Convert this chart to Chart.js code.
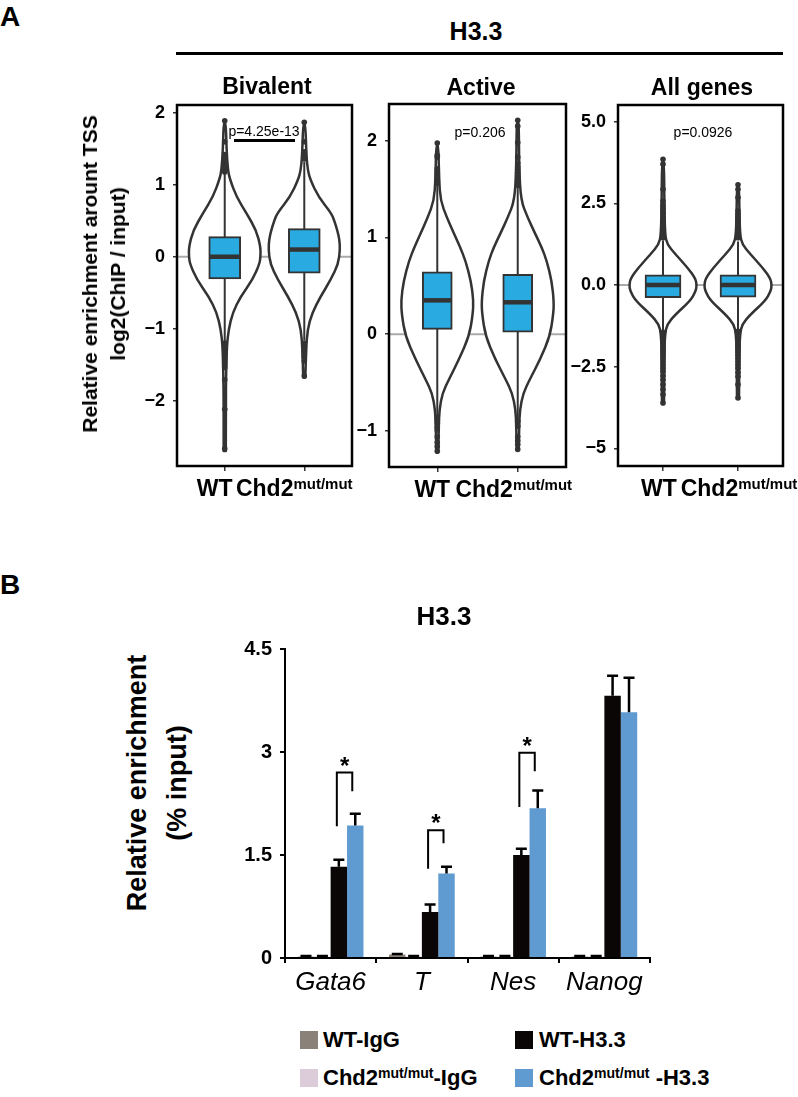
<!DOCTYPE html>
<html>
<head>
<meta charset="utf-8">
<script src="https://cdn.jsdelivr.net/npm/chart.js@4.4.0/dist/chart.umd.min.js"></script>
<style>
body { margin: 0; background: #fff; }
#page { position: relative; width: 798px; height: 1097px; overflow: hidden; font-family: 'Liberation Sans', Arial, sans-serif; color: #000; }
.t { position: absolute; white-space: nowrap; font-weight: bold; transform: translate(-50%, -50%); line-height: 1; }
.rot { transform: translate(-50%, -50%) rotate(-90deg); text-align: center; }
.n { font-weight: normal; }
.hl { position: absolute; background: #000; }
.sw { position: absolute; width: 18px; height: 18px; }
.lg { position: absolute; white-space: nowrap; font-weight: bold; font-size: 22px; line-height: 1; transform: translateY(-50%); }
sup { font-size: 0.64em; vertical-align: 0.5em; line-height: 0; }
canvas { position: absolute; }
</style>
</head>
<body>
<div id="page">
  <canvas id="cBiv" width="247" height="431" style="left:117px;top:80px;width:247px;height:431px"></canvas>
  <canvas id="cAct" width="249" height="433" style="left:329px;top:79px;width:249px;height:433px"></canvas>
  <canvas id="cAll" width="240" height="431" style="left:558px;top:80px;width:240px;height:431px"></canvas>
  <canvas id="cBar" width="470" height="384" style="left:200px;top:624px;width:470px;height:384px"></canvas>

  <div class="t" style="left:10px;top:17px;font-size:28px">A</div>
  <div class="t" style="left:476px;top:31px;font-size:25px">H3.3</div>
  <div class="hl" style="left:176px;top:52px;width:607px;height:2.5px"></div>
  <div class="t" style="left:267px;top:86px;font-size:23px">Bivalent</div>
  <div class="t" style="left:481px;top:87px;font-size:23px">Active</div>
  <div class="t" style="left:702px;top:87px;font-size:23px">All genes</div>
  <div class="t rot" style="left:104px;top:274px;font-size:21px;line-height:28px">Relative enrichment arount TSS<br>log2(ChIP / input)</div>
  <div class="t n" style="left:264px;top:131px;font-size:14px">p=4.25e-13</div>
  <div class="hl" style="left:234px;top:139px;width:61px;height:2.5px"></div>
  <div class="t n" style="left:480px;top:132px;font-size:14px">p=0.206</div>
  <div class="t n" style="left:703px;top:132px;font-size:14px">p=0.0926</div>

  <div class="t" style="left:10px;top:585px;font-size:28px">B</div>
  <div class="t" style="left:444px;top:616px;font-size:26px">H3.3</div>
  <div class="t rot" style="left:157px;top:783px;font-size:27px;line-height:40px">Relative enrichment<br>(% input)</div>

  <div class="sw" style="left:300px;top:1031px;background:#8a8179"></div>
  <div class="lg" style="left:323px;top:1040px">WT-IgG</div>
  <div class="sw" style="left:515px;top:1031px;background:#0a0606"></div>
  <div class="lg" style="left:539px;top:1040px">WT-H3.3</div>
  <div class="sw" style="left:300px;top:1069px;background:#dccbd9"></div>
  <div class="lg" style="left:323px;top:1078px">Chd2<sup>mut/mut</sup>-IgG</div>
  <div class="sw" style="left:515px;top:1069px;background:#5f9bd1"></div>
  <div class="lg" style="left:539px;top:1078px">Chd2<sup>mut/mut</sup> -H3.3</div>
</div>
<script>
var FONT = "'Liberation Sans', Arial, sans-serif";

// groups on the violin panels
var groupX = [1, 2];
var groupLabels = ['WT', 'Chd2'];
var groupSup = ['', 'mut/mut'];

// Bivalent
var bivTicks = [-2, -1, 0, 1, 2];
var bivQ1 = [-0.31, -0.23];
var bivMed = [0.0, 0.10];
var bivQ3 = [0.28, 0.39];
var bivLo = [-1.19, -1.16];
var bivHi = [1.17, 1.32];
var bivOutWT = [1.89, 1.60, 1.42, 1.38, 1.33, 1.28, 1.25, 1.22, 1.18, -1.20, -1.24, -1.28, -1.31, -1.35, -1.39, -1.42, -1.46, -1.50, -1.54, -1.71, -2.12, -2.67];
var bivOutMut = [1.87, 1.60, 1.46, 1.40, 1.36, -1.20, -1.24, -1.28, -1.32, -1.36, -1.40, -1.45, -1.66];
var bivDensYWT = [-2.7, -2.0, -1.6, -1.24, -1.01, -0.78, -0.55, -0.32, -0.1, 0, 0.14, 0.37, 0.61, 0.83, 1.07, 1.2, 1.5, 1.88];
var bivDensWT = [0.03, 0.03, 0.04, 0.06, 0.11, 0.22, 0.45, 0.78, 0.97, 1.0, 1.0, 0.88, 0.6, 0.33, 0.15, 0.09, 0.05, 0.03];
var bivDensYMut = [-1.68, -1.3, -1.01, -0.78, -0.55, -0.32, -0.1, 0.1, 0.25, 0.37, 0.5, 0.61, 0.83, 1.07, 1.2, 1.4, 1.87];
var bivDensMut = [0.03, 0.05, 0.09, 0.22, 0.46, 0.74, 0.95, 1.0, 0.98, 0.92, 0.84, 0.75, 0.4, 0.17, 0.1, 0.06, 0.03];

// Active
var actTicks = [-1, 0, 1, 2];
var actQ1 = [0.05, 0.02];
var actMed = [0.35, 0.33];
var actQ3 = [0.645, 0.62];
var actLo = [-0.84, -0.88];
var actHi = [1.54, 1.52];
var actOutWT = [1.975, 1.85, 1.83, 1.71, 1.68, 1.65, 1.62, 1.59, 1.56, -0.86, -0.89, -0.92, -0.96, -0.99, -1.06, -1.12, -1.16, -1.21];
var actOutMut = [2.21, 2.15, 1.98, 1.83, 1.77, 1.73, 1.70, 1.67, 1.64, 1.60, 1.57, 1.54, -0.90, -0.95, -1.06, -1.10, -1.14, -1.19];
var actDensYWT = [-1.21, -0.95, -0.78, -0.61, -0.47, -0.26, -0.02, 0.2, 0.35, 0.55, 0.76, 0.9, 1.04, 1.21, 1.38, 1.6, 1.97];
var actDensWT = [0.03, 0.04, 0.06, 0.14, 0.32, 0.6, 0.88, 0.98, 1.0, 0.93, 0.78, 0.63, 0.46, 0.26, 0.09, 0.05, 0.03];
var actDensYMut = [-1.18, -0.95, -0.78, -0.61, -0.47, -0.26, -0.02, 0.2, 0.33, 0.55, 0.76, 0.9, 1.04, 1.21, 1.38, 1.7, 2.21];
var actDensMut = [0.03, 0.04, 0.06, 0.15, 0.33, 0.62, 0.89, 0.98, 1.0, 0.94, 0.8, 0.66, 0.48, 0.27, 0.09, 0.04, 0.03];

// All genes
var allTicks = [-5, -2.5, 0, 2.5, 5];
var allQ1 = [-0.39, -0.37];
var allMed = [0.0, 0.0];
var allQ3 = [0.31, 0.31];
var allLo = [-1.44, -1.39];
var allHi = [1.36, 1.33];
var allOutWT = [1.45, 1.50, 1.56, 1.62, 1.68, 1.75, 1.82, 1.90, 1.97, 2.05, 2.17, 2.25, 2.35, 2.45, 2.57, 2.93, 3.70, 3.85,
  -1.45, -1.52, -1.60, -1.68, -1.76, -1.84, -1.92, -2.00, -2.08, -2.16, -2.25, -2.35, -2.45, -2.55, -2.65, -2.78, -2.90, -3.05, -3.20, -3.35, -3.61];
var allOutMut = [1.45, 1.52, 1.60, 1.68, 1.76, 1.84, 1.92, 2.00, 2.08, 2.17, 2.27, 2.68, 2.93, 3.07,
  -1.42, -1.50, -1.58, -1.66, -1.74, -1.82, -1.90, -1.98, -2.06, -2.15, -2.25, -2.35, -2.45, -2.55, -2.68, -2.80, -3.05, -3.46];
var allDensYWT = [-3.61, -2.0, -1.51, -1.2, -0.9, -0.49, -0.2, 0, 0.2, 0.53, 0.94, 1.25, 1.55, 2.5, 3.85];
var allDensWT = [0.03, 0.04, 0.06, 0.12, 0.37, 0.8, 0.97, 1.0, 0.96, 0.73, 0.37, 0.12, 0.06, 0.04, 0.03];
var allDensYMut = [-3.46, -2.0, -1.51, -1.2, -0.9, -0.49, -0.2, 0, 0.2, 0.53, 0.94, 1.25, 1.55, 2.3, 3.07];
var allDensMut = [0.03, 0.04, 0.06, 0.12, 0.37, 0.8, 0.97, 1.0, 0.96, 0.73, 0.37, 0.12, 0.06, 0.04, 0.03];

// Panel B
var genes = ['Gata6', 'T', 'Nes', 'Nanog'];
var barTicks = [0, 1.5, 3, 4.5];
var wtIgG = [0.02, 0.05, 0.02, 0.02];
var mutIgG = [0.02, 0.02, 0.02, 0.02];
var wtIgGErr = [0.01, 0.01, 0.01, 0.01];
var mutIgGErr = [0.01, 0.01, 0.01, 0.01];
var wtH33 = [1.33, 0.67, 1.50, 3.82];
var mutH33 = [1.93, 1.23, 2.18, 3.58];
var wtH33Err = [0.10, 0.11, 0.09, 0.29];
var mutH33Err = [0.17, 0.10, 0.26, 0.50];
var sigLeft = [1.92, 1.30, 2.20, null];
var sigTop = [2.70, 1.86, 2.99, null];
var sigRight = [2.43, 1.67, 2.72, null];

function minusFmt(v) {
    return (v < 0 ? '\u2212' : '') + Math.abs(v);
}

var violinPlugin = {
    id: 'violin',
    beforeDatasetsDraw: function (chart, args, opts) {
        var ctx = chart.ctx, xs = chart.scales.x, ys = chart.scales.y, a = chart.chartArea;
        ctx.save();
        var y0 = ys.getPixelForValue(0);
        ctx.strokeStyle = '#aaaaaa';
        ctx.lineWidth = 2;
        ctx.beginPath();
        ctx.moveTo(a.left, y0);
        ctx.lineTo(a.right, y0);
        ctx.stroke();

        opts.sets.forEach(function (s) {
            var cx = xs.getPixelForValue(s.x);
            var right = [], left = [];
            for (var i = 0; i < s.y.length; i++) {
                var py = ys.getPixelForValue(s.y[i]);
                var w = xs.getPixelForValue(s.x + s.d[i] * opts.width) - cx;
                right.push([cx + w, py]);
                left.unshift([cx - w, py]);
            }
            var pts = right.concat(left);
            ctx.beginPath();
            ctx.moveTo(pts[0][0], pts[0][1]);
            for (var j = 1; j < pts.length - 1; j++) {
                var mx = (pts[j][0] + pts[j + 1][0]) / 2, my = (pts[j][1] + pts[j + 1][1]) / 2;
                ctx.quadraticCurveTo(pts[j][0], pts[j][1], mx, my);
            }
            ctx.lineTo(pts[pts.length - 1][0], pts[pts.length - 1][1]);
            ctx.closePath();
            ctx.fillStyle = '#fff';
            ctx.fill();
            ctx.strokeStyle = '#333';
            ctx.lineWidth = 2.5;
            ctx.lineJoin = 'round';
            ctx.stroke();
            // whisker
            ctx.lineWidth = 2;
            ctx.beginPath();
            ctx.moveTo(cx, ys.getPixelForValue(s.lo));
            ctx.lineTo(cx, ys.getPixelForValue(s.hi));
            ctx.stroke();
        });
        ctx.restore();
    },
    afterDatasetsDraw: function (chart, args, opts) {
        var ctx = chart.ctx, xs = chart.scales.x, ys = chart.scales.y, a = chart.chartArea;
        ctx.save();
        // medians
        ctx.strokeStyle = '#333';
        ctx.lineWidth = 4.5;
        chart.getDatasetMeta(0).data.forEach(function (el, i) {
            var py = ys.getPixelForValue(opts.medians[i]);
            ctx.beginPath();
            ctx.moveTo(el.x - el.width / 2 + 1, py);
            ctx.lineTo(el.x + el.width / 2 - 1, py);
            ctx.stroke();
        });
        // frame
        ctx.strokeStyle = '#000';
        ctx.lineWidth = 2.5;
        ctx.strokeRect(a.left, a.top, a.right - a.left, a.bottom - a.top);
        // x labels with superscript
        ctx.fillStyle = '#000';
        ctx.textAlign = 'left';
        ctx.textBaseline = 'alphabetic';
        groupX.forEach(function (v, i) {
            var cx = xs.getPixelForValue(v) + opts.labelShift[i];
            ctx.font = 'bold 23px ' + FONT;
            var w1 = ctx.measureText(groupLabels[i]).width;
            ctx.font = 'bold 15px ' + FONT;
            var w2 = groupSup[i] ? ctx.measureText(groupSup[i]).width : 0;
            var x0 = cx - (w1 + w2) / 2, base = a.bottom + 30;
            ctx.font = 'bold 23px ' + FONT;
            ctx.fillText(groupLabels[i], x0, base);
            if (w2) {
                ctx.font = 'bold 15px ' + FONT;
                ctx.fillText(groupSup[i], x0 + w1, base - 7);
            }
        });
        ctx.restore();
    }
};

function toPoints(x, arr) {
    return arr.map(function (v) { return {x: x, y: v}; });
}

function makeViolin(id, p) {
    return new Chart(document.getElementById(id), {
        type: 'bar',
        data: {
            datasets: [{
                type: 'bar',
                data: groupX.map(function (x, i) { return {x: x, y: [p.q1[i], p.q3[i]]}; }),
                backgroundColor: '#29abe2',
                borderColor: '#333',
                borderWidth: 2,
                borderSkipped: false,
                barThickness: p.boxW,
                order: 0
            }, {
                type: 'scatter',
                data: toPoints(1, p.outWT).concat(toPoints(2, p.outMut)),
                pointRadius: 2.8,
                pointBackgroundColor: '#333',
                pointBorderWidth: 0,
                order: 1
            }]
        },
        options: {
            responsive: false,
            animation: false,
            events: [],
            layout: {padding: {top: 25, right: p.padRight, left: 0, bottom: 0}},
            plugins: {
                legend: {display: false},
                tooltip: {enabled: false},
                violin: {
                    width: 0.45,
                    medians: p.med,
                    labelShift: p.labelShift,
                    sets: [
                        {x: 1, y: p.densYWT, d: p.densWT, lo: p.lo[0], hi: p.hi[0]},
                        {x: 2, y: p.densYMut, d: p.densMut, lo: p.lo[1], hi: p.hi[1]}
                    ]
                }
            },
            scales: {
                x: {
                    type: 'linear',
                    min: 0.4,
                    max: 2.6,
                    offset: false,
                    afterBuildTicks: function (s) { s.ticks = groupX.map(function (v) { return {value: v}; }); },
                    ticks: {callback: function () { return ''; }, padding: 0},
                    grid: {drawOnChartArea: false, offset: false, tickLength: 5, color: '#333', lineWidth: 1.5},
                    border: {display: false},
                    afterFit: function (s) { s.height = 45; }
                },
                y: {
                    type: 'linear',
                    min: p.min,
                    max: p.max,
                    afterBuildTicks: function (s) { s.ticks = p.ticks.map(function (v) { return {value: v}; }); },
                    ticks: {
                        color: '#000',
                        padding: 8,
                        font: {family: FONT, size: 18, weight: 'bold'},
                        callback: p.fmt
                    },
                    grid: {drawOnChartArea: false, tickLength: 4, color: '#333', lineWidth: 1.5},
                    border: {display: false},
                    afterFit: function (s) { s.width = 60; }
                }
            }
        },
        plugins: [violinPlugin]
    });
}

makeViolin('cBiv', {
    min: -2.91, max: 2.11, ticks: bivTicks, fmt: minusFmt, boxW: 32, padRight: 12, labelShift: [-10, -10],
    q1: bivQ1, med: bivMed, q3: bivQ3, lo: bivLo, hi: bivHi,
    outWT: bivOutWT, outMut: bivOutMut,
    densYWT: bivDensYWT, densWT: bivDensWT, densYMut: bivDensYMut, densMut: bivDensMut
});

makeViolin('cAct', {
    min: -1.372, max: 2.379, ticks: actTicks, fmt: minusFmt, boxW: 30, padRight: 12, labelShift: [-5, -4],
    q1: actQ1, med: actMed, q3: actQ3, lo: actLo, hi: actHi,
    outWT: actOutWT, outMut: actOutMut,
    densYWT: actDensYWT, densWT: actDensWT, densYMut: actDensYMut, densMut: actDensMut
});

makeViolin('cAll', {
    min: -5.54, max: 5.51, ticks: allTicks, boxW: 36, padRight: 15, labelShift: [-4, 1],
    fmt: function (v) { return v === -5 ? '\u22125' : (v < 0 ? '\u2212' : '') + Math.abs(v).toFixed(1); },
    q1: allQ1, med: allMed, q3: allQ3, lo: allLo, hi: allHi,
    outWT: allOutWT, outMut: allOutMut,
    densYWT: allDensYWT, densWT: allDensWT, densYMut: allDensYMut, densMut: allDensMut
});

var errorBarPlugin = {
    id: 'errbars',
    afterDatasetsDraw: function (chart) {
        var ctx = chart.ctx, ys = chart.scales.y;
        ctx.save();
        ctx.strokeStyle = '#000';
        ctx.lineWidth = 2.5;
        chart.data.datasets.forEach(function (ds, di) {
            if (!ds.errors) return;
            chart.getDatasetMeta(di).data.forEach(function (el, i) {
                var top = ys.getPixelForValue(ds.data[i] + ds.errors[i]);
                ctx.beginPath();
                ctx.moveTo(el.x, el.y);
                ctx.lineTo(el.x, top);
                ctx.moveTo(el.x - 5.5, top);
                ctx.lineTo(el.x + 5.5, top);
                ctx.stroke();
            });
        });

        // significance brackets
        var blk = chart.getDatasetMeta(2).data, blu = chart.getDatasetMeta(3).data;
        ctx.lineWidth = 2;
        ctx.font = 'bold 24px ' + FONT;
        ctx.textAlign = 'center';
        ctx.textBaseline = 'alphabetic';
        ctx.fillStyle = '#000';
        sigTop.forEach(function (t, i) {
            if (t == null) return;
            var xl = blk[i].x - 2, xr = blu[i].x - 3, yt = ys.getPixelForValue(t);
            ctx.beginPath();
            ctx.moveTo(xl, ys.getPixelForValue(sigLeft[i]));
            ctx.lineTo(xl, yt);
            ctx.lineTo(xr, yt);
            ctx.lineTo(xr, ys.getPixelForValue(sigRight[i]));
            ctx.stroke();
            ctx.fillText('*', (xl + xr) / 2, yt + 1);
        });
        ctx.restore();
    }
};

new Chart(document.getElementById('cBar'), {
    type: 'bar',
    data: {
        labels: genes,
        datasets: [
            {label: 'WT-IgG', data: wtIgG, errors: wtIgGErr, backgroundColor: '#8a8179'},
            {label: 'Chd2mut/mut-IgG', data: mutIgG, errors: mutIgGErr, backgroundColor: '#dccbd9'},
            {label: 'WT-H3.3', data: wtH33, errors: wtH33Err, backgroundColor: '#0a0606'},
            {label: 'Chd2mut/mut-H3.3', data: mutH33, errors: mutH33Err, backgroundColor: '#5f9bd1'}
        ]
    },
    options: {
        responsive: false,
        animation: false,
        events: [],
        layout: {padding: {top: 25, right: 20, left: 0, bottom: 0}},
        datasets: {bar: {categoryPercentage: 0.72, barPercentage: 1.0}},
        plugins: {legend: {display: false}, tooltip: {enabled: false}},
        scales: {
            x: {
                grid: {drawOnChartArea: false, tickLength: 5, color: '#000', lineWidth: 2},
                border: {color: '#000', width: 2},
                ticks: {color: '#000', padding: 4, font: {family: FONT, size: 26, style: 'italic'}},
                afterFit: function (s) { s.height = 50; }
            },
            y: {
                min: 0,
                max: 4.5,
                afterBuildTicks: function (s) { s.ticks = barTicks.map(function (v) { return {value: v}; }); },
                grid: {drawOnChartArea: false, tickLength: 5, color: '#000', lineWidth: 2},
                border: {color: '#000', width: 2},
                ticks: {
                    color: '#000',
                    padding: 8,
                    font: {family: FONT, size: 20, weight: 'bold'},
                    callback: function (v) { return String(v); }
                },
                afterFit: function (s) { s.width = 85; }
            }
        }
    },
    plugins: [errorBarPlugin]
});
</script>
</body>
</html>
